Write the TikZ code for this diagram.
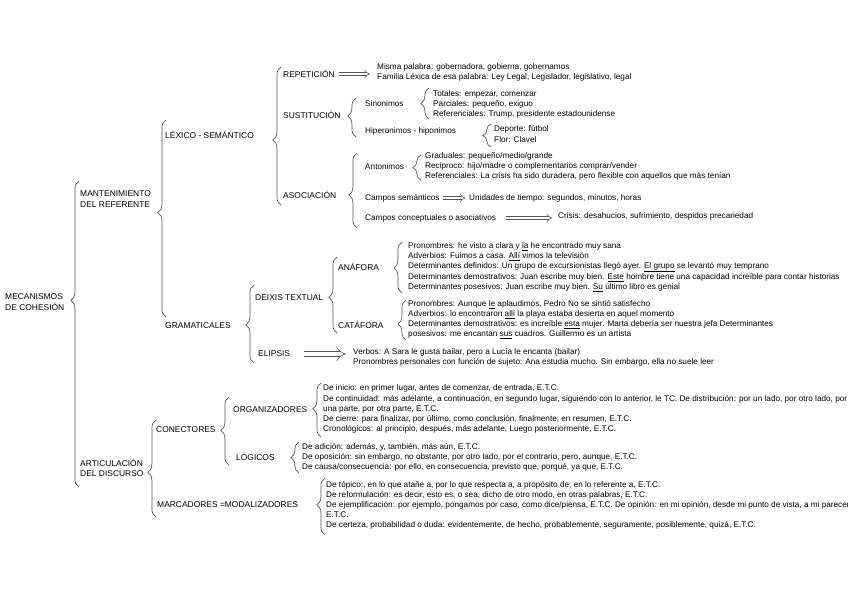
\documentclass[tikz,border=0pt]{standalone}
\usepackage{fontspec}
\setmainfont{Liberation Sans}
\usetikzlibrary{positioning,arrows.meta,decorations.pathreplacing}
\definecolor{BraceGray}{RGB}{85,85,85}

\begin{document}
\begin{tikzpicture}[x=0.03cm, y=-0.03cm, every node/.style={align=left, inner sep=0pt}]
\tikzset{
  head/.style={anchor=west, font=\fontsize{7.2}{9}\selectfont},
  info/.style={anchor=west, font=\fontsize{7}{8.6}\selectfont},
  brc/.style={decorate, decoration={brace, amplitude=7pt, aspect=#1}, BraceGray, line width=0.6pt},
  brc/.default=0.5,
  dbl/.style={double, double distance=2pt, -{Implies}, BraceGray, line width=0.5pt}
}
  \useasboundingbox (0,0) rectangle (848,597);

  % first levels
  \node[head] (mecanismos) at (5,302) {MECANISMOS\\DE COHESIÓN};
  \node[head] (mantenimiento) at (80,199) {MANTENIMIENTO\\DEL REFERENTE};
  \node[head] (articulacion) at (80,468) {ARTICULACIÓN\\DEL DISCURSO};
  \node[head] (lexico) at (165,135) {LÉXICO - SEMÁNTICO};
  \node[head] (gramaticales) at (165,326) {GRAMATICALES};
  \draw[brc=0.61] (79,487) -- (79,181);
  \draw[brc=0.53] (166,317) -- (166,120);
  \draw[brc=0.46] (156,517) -- (156,420);

  % lexico - semantico
  \node[head] (repeticion) at (283,74) {REPETICIÓN};
  \node[head] (sustitucion) at (283,115) {SUSTITUCIÓN};
  \node[head] (asociacion) at (283,195) {ASOCIACIÓN};
  \draw[brc=0.47] (281,205) -- (281,67);
  \node[info] (repTxt) at (377,72) {Misma palabra: gobernadora, gobierna, gobernamos\\Familia Léxica de esa palabra: Ley Legal, Legislador, legislativo, legal};
  \draw[dbl, shorten <=3pt, shorten >=6pt] (repeticion.east) -- (repeticion.east -| repTxt.west);

  \node[info] (sinonimos) at (365,104) {Sinonimos};
  \node[info] (hiperonimos) at (365,131) {Hiperonimos - hiponimos};
  \draw[brc=0.54] (356,137) -- (356,98);
  \node[info] (sinTxt) at (433,104) {Totales: empezar, comenzar\\Parciales: pequeño, exiguo\\Referenciales: Trump, presidente estadounidense};
  \draw[brc] (429,119) -- (429,88);
  \node[info] (hipTxt) at (494,134) {Deporte: fútbol\\Flor: Clavel};
  \draw[brc] (491,147) -- (491,124);

  \node[info] (antonimos) at (365,167) {Antonimos};
  \node[info] (camposSem) at (365,198) {Campos semánticos};
  \node[info] (camposCon) at (365,218) {Campos conceptuales o asociativos};
  \draw[brc=0.44] (357,228) -- (357,153);
  \node[info] (antTxt) at (425,166) {Graduales: pequeño/medio/grande\\Reciproco: hijo/madre o complementarios comprar/vender\\Referenciales: La crisis ha sido duradera, pero flexible con aquellos que más tenían};
  \draw[brc] (421,180) -- (421,155);
  \node[info] (semTxt) at (469,198) {Unidades de tiempo: segundos, minutos, horas};
  \draw[dbl, shorten <=3pt, shorten >=3pt] (camposSem) -- (semTxt);
  \node[info] (conTxt) at (558,216) {Crisis: desahucios, sufrimiento, despidos precariedad};
  \draw[dbl, shorten <=8pt, shorten >=5pt] (camposCon.east) -- (camposCon.east -| conTxt.west);

  % gramaticales
  \node[head] (deixis) at (255,298) {DEIXIS TEXTUAL};
  \node[head] (elipsis) at (258,354) {ELIPSIS};
  \draw[brc=0.49] (254,363) -- (254,285);
  \node[head] (anafora) at (338,267) {ANÁFORA};
  \node[head] (catafora) at (338,325) {CATÁFORA};
  \draw[brc=0.47] (337,333) -- (337,257);
  \node[info] (anaTxt) at (408,267) {Pronombres: he visto a clara y \underline{la} he encontrado muy sana\\Adverbios: Fuimos a casa. \underline{Allí} vimos la televisión\\Determinantes definidos: Un grupo de excursionistas llegó ayer. \underline{El grupo} se levantó muy temprano\\Determinantes demostrativos: Juan escribe muy bien. \underline{Este} hombre tiene una capacidad increíble para contar historias\\Determinantes posesivos: Juan escribe muy bien. \underline{Su} último libro es genial};
  \draw[brc=0.49] (402,293) -- (402,242);
  \node[info] (catTxt) at (408,320) {Pronombres: Aunque \underline{le} aplaudimos, Pedro No se sintió satisfecho\\Adverbios: lo encontraron \underline{allí} la playa estaba desierta en aquel momento\\Determinantes demostrativos: es increíble \underline{esta} mujer. Marta debería ser nuestra jefa Determinantes\\posesivos: me encantan \underline{sus} cuadros. Guillermo es un artista};
  \draw[brc=0.4] (406,340) -- (406,300);
  \node[info] (eliTxt) at (353,357) {Verbos: A Sara le gusta bailar, pero a Lucía le encanta (bailar)\\Pronombres personales con función de sujeto: Ana estudia mucho. Sin embargo, ella no suele leer};
  \draw[dbl, double distance=4pt, shorten <=12pt, shorten >=6pt] (elipsis.east) -- (elipsis.east -| eliTxt.west);

  % articulacion del discurso
  \node[head] (conectores) at (156,430) {CONECTORES};
  \node[head] (marcadores) at (157,505) {MARCADORES =MODALIZADORES};
  \node[head] (organizadores) at (233,410) {ORGANIZADORES};
  \node[head] (logicos) at (236,457) {LÓGICOS};
  \draw[brc=0.51] (229,465) -- (229,397);
  \node[info] (orgTxt) at (323,409) {De inicio: en primer lugar, antes de comenzar, de entrada, E.T.C.\\De continuidad: más adelante, a continuación, en segundo lugar, siguiendo con lo anterior, le TC. De distribución: por un lado, por otro lado, por\\una parte, por otra parte, E.T.C.\\De cierre: para finalizar, por último, como conclusión, finalmente, en resumen, E.T.C.\\Cronológicos: al principio, después, más adelante, Luego posteriormente, E.T.C.};
  \draw[brc=0.52] (321,437) -- (321,383);
  \node[info] (logTxt) at (302,457) {De adición: además, y, también, más aún, E.T.C.\\De oposición: sin embargo, no obstante, por otro lado, por el contrario, pero, aunque, E.T.C.\\De causa/consecuencia: por ello, en consecuencia, previsto que, porqué, ya que, E.T.C.};
  \draw[brc] (299,473) -- (299,442);
  \node[info] (marTxt) at (326,505) {De tópico:, en lo que atañe a, por lo que respecta a, a propósito de, en lo referente a, E.T.C.\\De reformulación: es decir, esto es, o sea, dicho de otro modo, en otras palabras, E.T.C.\\De ejemplificación: por ejemplo, pongamos por caso, como dice/piensa, E.T.C. De opinión: en mi opinión, desde mi punto de vista, a mi parecer\\E.T.C.\\De certeza, probabilidad o duda: evidentemente, de hecho, probablemente, seguramente, posiblemente, quizá, E.T.C.};
  \draw[brc=0.53] (325,535) -- (325,478);
\end{tikzpicture}
\end{document}
